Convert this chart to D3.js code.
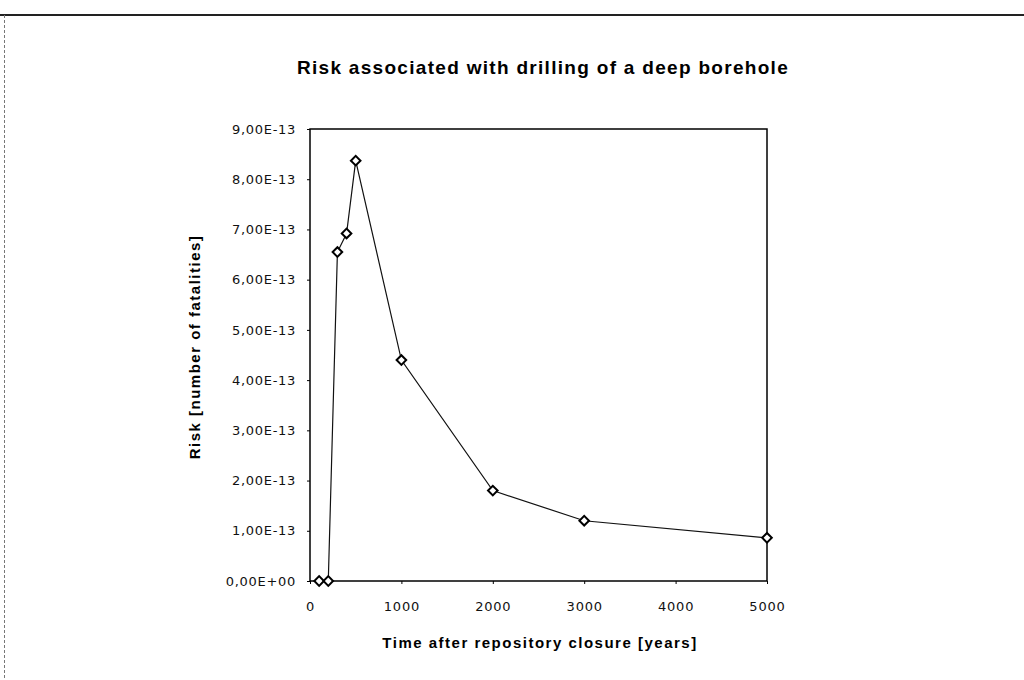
<!DOCTYPE html>
<html>
<head>
<meta charset="utf-8">
<script src="https://cdn.jsdelivr.net/npm/d3@7"></script>
<style>
  body { margin: 0; background: #fff; }
  svg { display: block; }
</style>
</head>
<body>
<svg></svg>
<script>
const width = 1024,
  height = 680

// data
const years = [100, 200, 300, 400, 500, 1000, 2000, 3000, 5000]
const risk = [0, 0, 6.55e-13, 6.92e-13, 8.37e-13, 4.4e-13, 1.8e-13, 1.2e-13, 0.86e-13]
const xTicks = [0, 1000, 2000, 3000, 4000, 5000]
const yTicks = [0, 1e-13, 2e-13, 3e-13, 4e-13, 5e-13, 6e-13, 7e-13, 8e-13, 9e-13]

const title = "Risk associated with drilling of a deep borehole"
const xTitle = "Time after repository closure [years]"
const yTitle = "Risk [number of fatalities]"

const plot = { left: 310, right: 767, top: 129, bottom: 581 }

const svg = d3.select("svg").attr("width", width).attr("height", height)

const x = d3.scaleLinear().domain([0, 5000]).range([plot.left, plot.right])
const y = d3.scaleLinear().domain([0, 9e-13]).range([plot.bottom, plot.top])

// excel style "9,00E-13"
const fmtE = v => {
  let [m, e] = v.toExponential(2).split("e")
  let sign = e[0] === "-" ? "-" : "+"
  let digits = e.replace(/[+-]/, "").padStart(2, "0")
  return m.replace(".", ",") + "E" + sign + digits
}

// page border from the scan
svg.append("line")
  .attr("x1", 0).attr("x2", width).attr("y1", 15).attr("y2", 15)
  .attr("stroke", "#222").attr("stroke-width", 2)
svg.append("line")
  .attr("x1", 4.5).attr("x2", 4.5).attr("y1", 15).attr("y2", height)
  .attr("stroke", "#777").attr("stroke-width", 1).attr("stroke-dasharray", "3,2")

svg.append("text")
  .attr("x", 543).attr("y", 74)
  .attr("text-anchor", "middle")
  .style("font-family", "Liberation Sans, Arial, sans-serif")
  .style("font-weight", "bold")
  .style("font-size", "19px")
  .style("letter-spacing", "1.3px")
  .text(title)

// axes
const yAxis = d3.axisLeft(y).tickValues(yTicks).tickFormat(fmtE).tickSize(3).tickPadding(11)
const xAxis = d3.axisBottom(x).tickValues(xTicks).tickFormat(d3.format("d")).tickSize(3).tickPadding(18)

const gy = svg.append("g").attr("transform", `translate(${plot.left},0)`).call(yAxis)
const gx = svg.append("g").attr("transform", `translate(0,${plot.bottom})`).call(xAxis)

gy.select(".domain").remove()
gx.select(".domain").remove()
svg.selectAll(".tick line").attr("stroke", "#000")
svg.selectAll(".tick text")
  .attr("fill", "#111")
  .style("font-family", "DejaVu Sans, sans-serif")
  .style("font-size", "13px")
gy.selectAll(".tick text").style("letter-spacing", "0.7px")
gx.selectAll(".tick text").style("letter-spacing", "0.8px")

// plot frame
svg.append("rect")
  .attr("x", plot.left).attr("y", plot.top)
  .attr("width", plot.right - plot.left).attr("height", plot.bottom - plot.top)
  .attr("fill", "none").attr("stroke", "#000").attr("stroke-width", 1.5)

svg.append("text")
  .attr("x", 540).attr("y", 648)
  .attr("text-anchor", "middle")
  .style("font-family", "Liberation Sans, Arial, sans-serif")
  .style("font-weight", "bold")
  .style("font-size", "15px")
  .style("letter-spacing", "1.5px")
  .text(xTitle)

svg.append("text")
  .attr("transform", `translate(200,${(plot.top + plot.bottom) / 2 - 8}) rotate(-90)`)
  .attr("text-anchor", "middle")
  .style("font-family", "Liberation Sans, Arial, sans-serif")
  .style("font-weight", "bold")
  .style("font-size", "15px")
  .style("letter-spacing", "1.5px")
  .text(yTitle)

const points = years.map((d, i) => ({ year: d, risk: risk[i] }))

const line = d3.line().x(d => x(d.year)).y(d => y(d.risk))

svg.append("path")
  .datum(points)
  .attr("d", line)
  .attr("fill", "none")
  .attr("stroke", "#111")
  .attr("stroke-width", 1.2)

const diamond = d3.symbol().type(d3.symbolSquare).size(46)

svg.append("g")
  .selectAll("path")
  .data(points)
  .join("path")
  .attr("d", diamond)
  .attr("transform", d => `translate(${x(d.year)},${y(d.risk)}) rotate(45)`)
  .attr("fill", "#fff")
  .attr("stroke", "#000")
  .attr("stroke-width", 2)
</script>
</body>
</html>
